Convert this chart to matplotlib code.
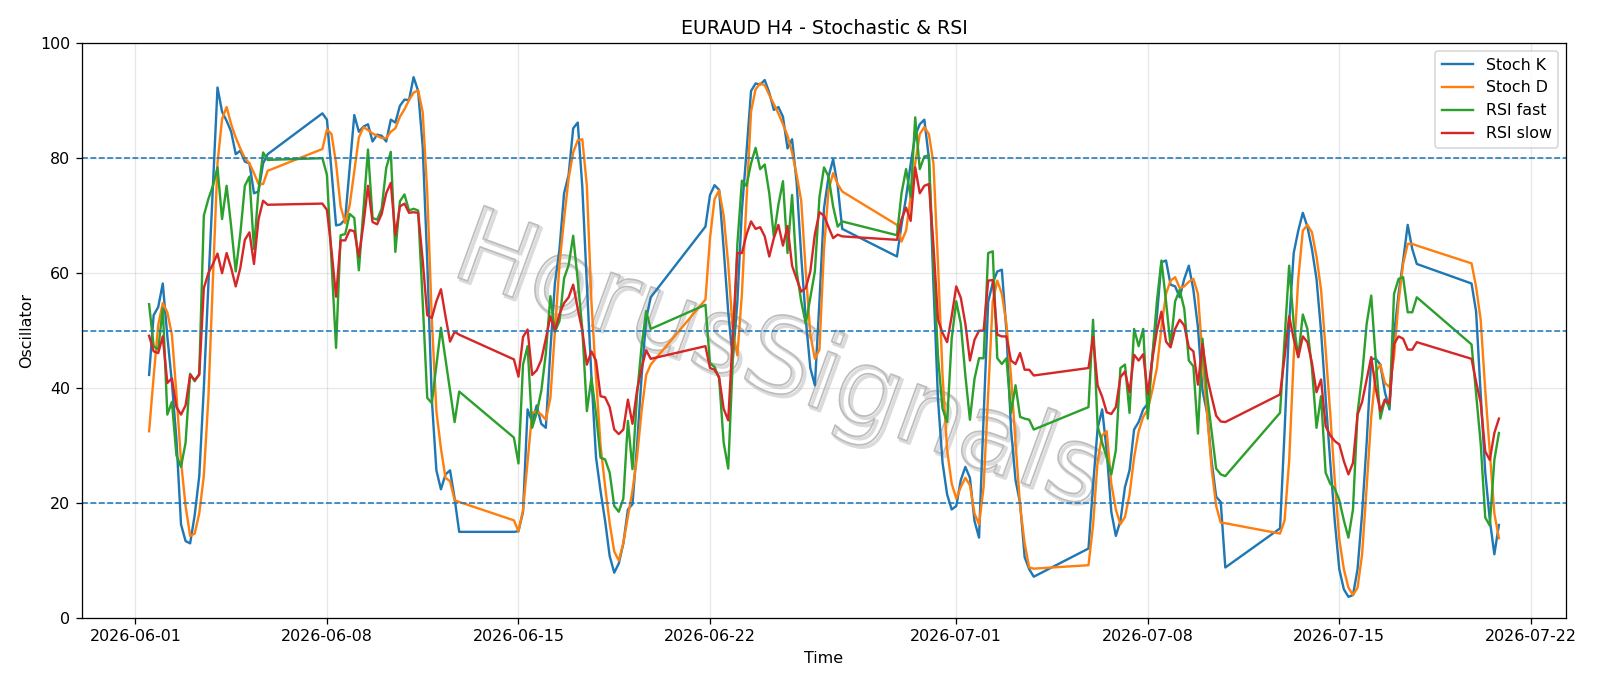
import matplotlib
matplotlib.use("Agg")
import matplotlib.pyplot as plt
import matplotlib.patheffects as pe
import pandas as pd

# ---- data (H4 bars, weekends skipped; Sunday 20:00 bar kept) ----
start_time = "2026-06-01 12:00"
end_time = "2026-07-20 20:00"

stoch_k = [
    42.3, 52.7, 54.1, 58.2, 49, 41, 31, 16.3, 13.4, 13.0, 17.9, 24.7, 40, 58, 75, 92.3, 88.1, 86.5, 84.6, 80.7, 81.3, 79.4, 79.1, 73.9, 74.2, 79.1, 80.7,
    87.8, 86.7, 77.8, 68.3, 68.5, 69.4, 78.4, 87.5, 84.6, 85.5, 85.9, 82.9, 84.1, 83.9, 82.9, 86.7, 86.2, 89.1, 90.2, 90.1, 94.1, 91.7, 82, 62, 38, 25.7, 22.4, 25, 25.7, 20.8, 15.0,
    15.0, 15.1, 18.5, 36.3, 34.1, 37.0, 33.8, 33.1, 46.7, 58.3, 64.2, 73.9, 77.1, 85.2, 86.2, 75, 58, 42, 28, 22.1, 16.9, 10.8, 7.9, 9.5, 13.0, 18.9, 19.8, 30, 42, 52, 55.8,
    68.1, 73.6, 75.3, 74.5, 64.2, 53.2, 45, 55, 71, 81, 91.7, 93.0, 92.8, 93.6, 91.4, 88.4, 88.9, 87.2, 81.7, 83.3, 75.8, 63, 52, 43.5, 40.5, 55.1, 71.3, 76.8, 79.8, 75.2, 67.7,
    62.9, 68.4, 73.2, 79, 83.9, 85.9, 86.7, 80, 58, 38, 27, 21.5, 18.9, 19.5, 24, 26.3, 24.4, 16.9, 14.0, 35, 55, 58.3, 60.3, 60.6, 50, 33, 24, 20, 10.6, 8.5, 7.2,
    12.1, 23, 33, 36.3, 29, 18.5, 14.3, 16.9, 22.8, 25.7, 32.8, 34.1, 36.3, 37.3, 45.4, 52.5, 61.9, 62.2, 58.0, 57.7, 55.8, 59.0, 61.3, 57.1, 50.6, 39.6, 35.7, 27.3, 21.1, 20.2, 8.8,
    15.6, 32.5, 51.2, 63.5, 67.4, 70.5, 68.1, 64.2, 59.0, 49.9, 38.3, 27.3, 16.9, 8.5, 5.0, 3.7, 4.0, 8.5, 18.2, 30.5, 45.1, 45.1, 44.1, 39.3, 36.3, 49.3, 56.4, 62.2, 68.4, 64.2, 61.6,
    58.2, 53.3, 39, 25.4, 17.1, 11.1, 16.2,
]
stoch_d = [
    32.5, 42, 51, 54.8, 53.2, 49.3, 39, 27.3, 19.5, 14.3, 14.7, 18.2, 24.7, 38.3, 59, 79.1, 86.8, 88.9, 85.9, 83.6, 81.7, 80, 79.1, 77.4, 75.5, 75.5, 77.8,
    81.6, 85.0, 84.2, 79.1, 71.6, 68.7, 71.9, 77.8, 83.6, 85.4, 84.9, 84.3, 83.9, 83.5, 83.5, 84.6, 85.2, 87.2, 88.5, 90.1, 91.4, 91.8, 88, 74, 52, 36, 29.5, 24.4, 23.8, 20.5, 20.2,
    17.0, 15.1, 18.8, 27.2, 35.7, 36, 35.4, 34.5, 38.3, 50.0, 61.6, 69.4, 76.5, 81.0, 83.1, 83.3, 75.2, 55, 42, 30, 22.9, 16.5, 11.6, 10.0, 13.1, 17.6, 22.2, 28, 36, 42.3, 44.1,
    55.4, 66.1, 72.9, 74.4, 70.0, 61.6, 49.9, 45.7, 56.4, 72.6, 88.1, 92.0, 93.0, 92.7, 91.0, 89.4, 87.8, 85.9, 83.9, 81.0, 77.1, 72.6, 60.3, 49.3, 45.1, 46.7, 64.2, 74.5, 77.4, 75.5, 74.2,
    68.4, 65.5, 67.4, 73.2, 79.1, 84.2, 85.4, 84.2, 79.1, 61.6, 42.2, 29.2, 23.4, 20.8, 22.8, 24.4, 23.1, 18.2, 16.3, 22.8, 38.9, 55.1, 58.7, 56.4, 51.2, 42.2, 30.5, 19.5, 13, 8.8, 8.6,
    9.2, 16.1, 27.3, 31.8, 32.5, 23.4, 18.9, 16.3, 17.6, 21.5, 27.9, 32.5, 35.0, 36.3, 39.6, 43.5, 50.6, 56.4, 58.7, 59.3, 57.4, 57.7, 58.5, 59.0, 56.4, 45.4, 35.7, 26.0, 19.5, 16.6, 16.5,
    14.7, 17.0, 27.3, 45.4, 59.0, 67.4, 68.4, 67.1, 62.9, 57.1, 46.7, 35.7, 24.0, 13.7, 8.5, 5.3, 4.0, 5.3, 11.1, 22.8, 35.0, 42.8, 44.1, 40.9, 40.2, 45.4, 55.1, 61.6, 65.1, 65.1, 64.8,
    61.7, 57.6, 51.9, 39.7, 29, 18.2, 13.9,
]
rsi_fast = [
    54.6, 47.3, 46.7, 53.9, 35.4, 37.6, 28.3, 26.3, 30.5, 42.5, 41.2, 42.5, 70, 72.9, 75.2, 78.4, 69.4, 75.2, 68.1, 60.3, 66.8, 75.2, 76.8, 64.2, 74.5, 81.0, 79.7,
    80.0, 77.1, 62, 47.0, 66.6, 66.8, 70.3, 69.6, 60.5, 71, 81.5, 69.6, 69.3, 71.2, 78.3, 81.1, 63.7, 72.5, 73.7, 70.9, 71.2, 70.9, 55, 38.3, 37.4, 44, 50.5, 45, 39.6, 34.1, 39.4,
    31.4, 26.9, 44.1, 47.3, 33.1, 35.7, 39.5, 46.0, 56.0, 49.8, 51.7, 59.1, 61.4, 66.5, 58.8, 50.3, 36.0, 41.8, 35.6, 27.9, 27.6, 25.3, 19.5, 18.5, 20.8, 34.3, 25.9, 38.8, 47.3, 53.4, 50.3,
    54.5, 44.3, 43.7, 41.7, 30.5, 26.0, 45, 65, 76.1, 75.2, 79.1, 81.8, 78.1, 78.9, 73.9, 66.4, 71.9, 76.0, 63.5, 73.6, 60.3, 55.1, 51.2, 55.8, 60.3, 73.2, 78.4, 76.8, 71.6, 68.1, 69.0,
    66.6, 73.9, 78.1, 73.2, 87.1, 78.1, 80.3, 80.5, 61.6, 45.5, 36.4, 34.1, 48.6, 55.1, 51.2, 42.2, 34.5, 41.6, 45.2, 45.2, 63.5, 63.8, 45.2, 44.2, 45.2, 35.7, 40.5, 35.0, 34.7, 34.5, 32.8,
    36.7, 51.9, 33.4, 30.5, 27.9, 25.0, 29.2, 43.5, 44.1, 35.7, 50.3, 47.3, 50.3, 34.7, 45.4, 55.1, 62.2, 55.1, 47.3, 55.1, 57.1, 53.8, 44.8, 43.8, 32.1, 48.6, 38.9, 32.5, 26.0, 25.0, 24.7,
    35.7, 48.6, 61.3, 51.2, 45.4, 52.8, 50.3, 43.5, 33.1, 38.6, 25.3, 23.4, 22.5, 20.5, 17, 14.0, 18.9, 35.7, 42.2, 51.2, 56.1, 44.8, 34.7, 38.0, 36.7, 56.4, 59.0, 59.3, 53.2, 53.2, 55.8,
    47.6, 39, 30.4, 17.5, 16.1, 27.5, 32.2,
]
rsi_slow = [
    49.1, 46.4, 46.1, 49.0, 40.9, 41.7, 36.7, 35.4, 37.0, 42.3, 41.4, 42.3, 57.4, 60.0, 61.6, 63.4, 60.0, 63.5, 60.9, 57.7, 60.9, 65.8, 67.1, 61.6, 69.4, 72.6, 71.9,
    72.1, 71.0, 64, 55.9, 65.7, 65.7, 67.5, 67.3, 62.9, 68.5, 75.2, 68.9, 68.5, 70.3, 73.9, 75.7, 66.6, 71.6, 72.1, 70.5, 70.6, 70.5, 62.2, 52.7, 52.2, 55.1, 57.2, 52.5, 48.1, 49.8, 49.3,
    45.0, 42.0, 48.9, 50.2, 42.3, 43.1, 44.9, 48.6, 52.5, 50.0, 52.9, 54.8, 55.8, 58.0, 53.8, 50.0, 44.1, 46.4, 44.8, 38.6, 38.4, 36.7, 32.8, 32.0, 32.8, 38.0, 33.8, 39.6, 43.5, 46.6, 45.1,
    47.3, 43.5, 43.2, 41.9, 36.4, 34.4, 49.2, 63.5, 63.5, 66.7, 69.0, 67.7, 68.0, 66.4, 62.9, 66.1, 68.4, 64.8, 68.2, 61.3, 59, 56.8, 57.4, 60.3, 66.8, 70.6, 70, 68.0, 66.1, 66.7, 66.4,
    65.8, 69.4, 71.4, 69.1, 78.4, 73.9, 75.2, 75.5, 64.9, 51.9, 49.6, 48.0, 52.5, 57.7, 55.7, 51.2, 44.8, 48.4, 50.0, 50.0, 58.7, 58.8, 49.3, 49.0, 49.0, 44.8, 44.2, 46.1, 43.2, 43.2, 42.2,
    43.5, 48.9, 40.5, 38.5, 35.8, 35.5, 36.7, 41.9, 42.9, 39.3, 45.8, 44.8, 45.9, 39.0, 45, 50, 53.3, 48.1, 47.1, 50.3, 51.9, 50.9, 47.1, 46.4, 40.6, 47.7, 42, 38.5, 35.2, 34.2, 34.1,
    38.9, 45.4, 52.5, 48.6, 45.4, 49.0, 48.0, 44.4, 39.3, 41.5, 33.4, 31.8, 30.8, 30.2, 27.3, 25.0, 27.0, 35.4, 37.6, 41.5, 45.4, 39.9, 36.0, 38.0, 37.3, 47.7, 49.0, 48.6, 46.7, 46.7, 48.0,
    45.1, 41.1, 37.5, 29, 27.5, 32.2, 34.7,
]
levels = [80, 50, 20]
series_labels = ["Stoch K", "Stoch D", "RSI fast", "RSI slow"]

# ---- time index ----
rng = pd.date_range(start_time, end_time, freq="4h")
keep = (rng.dayofweek < 5) | ((rng.dayofweek == 6) & (rng.hour == 20))
times = rng[keep]

DPI = 1600 / 14
fig = plt.figure(figsize=(14, 686 / DPI), dpi=DPI)
ax = fig.add_axes([0.051, 0.099, 0.928, 0.838])

for vals, lab in zip([stoch_k, stoch_d, rsi_fast, rsi_slow], series_labels):
    ax.plot(times, vals, label=lab, linewidth=1.5)

for lv in levels:
    ax.axhline(lv, linestyle="--", color="#1f77b4", linewidth=1)

ax.set_ylim(0, 100)
ax.grid(True, alpha=0.3)
ax.set_title("EURAUD H4 - Stochastic & RSI")
ax.set_xlabel("Time")
ax.set_ylabel("Oscillator")
ax.legend(loc="upper right")

wm = ax.text(0.487, 0.47, "HorusSignals", transform=fig.transFigure,
             fontsize=66, rotation=-20, ha="center", va="center",
             color=(1, 1, 1, 0), zorder=0.8)
wm.set_path_effects([
    pe.Stroke(linewidth=2.2, foreground=(0.86, 0.86, 0.86), offset=(1.5, -1.5)),
    pe.Stroke(linewidth=1.1, foreground=(0.74, 0.74, 0.74)),
])

fig.savefig("out.png", dpi=DPI)
